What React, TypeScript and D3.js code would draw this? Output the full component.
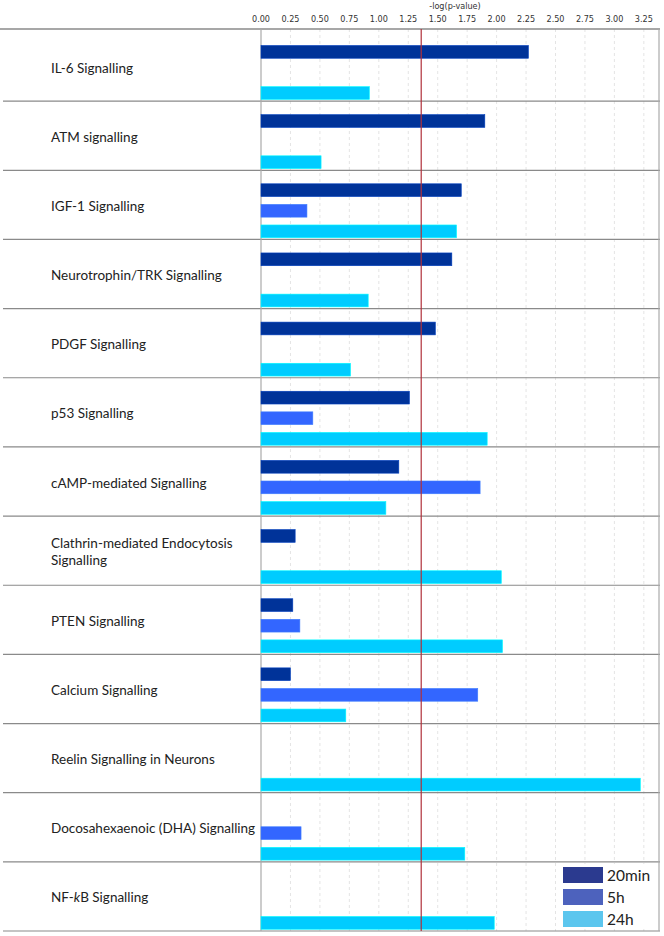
import * as d3 from 'd3';

const categories = [
  'IL-6 Signalling',
  'ATM signalling',
  'IGF-1 Signalling',
  'Neurotrophin/TRK Signalling',
  'PDGF Signalling',
  'p53 Signalling',
  'cAMP-mediated Signalling',
  'Clathrin-mediated Endocytosis Signalling',
  'PTEN Signalling',
  'Calcium Signalling',
  'Reelin Signalling in Neurons',
  'Docosahexaenoic (DHA) Signalling',
  'NF-kB Signalling',
];

const seriesNames = ['20min', '5h', '24h'];

// -log(p-value) per pathway, null = no bar
const values20min = [2.27, 1.9, 1.7, 1.62, 1.48, 1.26, 1.17, 0.29, 0.27, 0.25, null, null, null];
const values5h = [null, null, 0.39, null, null, 0.44, 1.86, null, 0.33, 1.84, null, 0.34, null];
const values24h = [0.92, 0.51, 1.66, 0.91, 0.76, 1.92, 1.06, 2.04, 2.05, 0.72, 3.22, 1.73, 1.98];

const xTicks = [0, 0.25, 0.5, 0.75, 1, 1.25, 1.5, 1.75, 2, 2.25, 2.5, 2.75, 3, 3.25];
const threshold = 1.36;

const barColors = ['#003399', '#3366ff', '#00ccff'];
const legendColors = ['#2b3a8f', '#4d62bd', '#5cc6ee'];

const W = 664;
const H = 936;
const plotLeft = 261;
const plotRight = 659;
const plotTop = 29;
const plotBottom = 931;

export default function App() {
  const x = d3.scaleLinear().domain([0, 3.25]).range([plotLeft, plotLeft + 13 * 29.45]);
  const y = d3.scaleBand<string>().domain(categories).range([plotTop + 3, plotBottom]);
  const rowH = y.bandwidth();
  const inner = d3
    .scaleBand<string>()
    .domain(seriesNames)
    .range([rowH * 0.195, rowH * 0.975])
    .paddingInner(0.38)
    .paddingOuter(0);

  const allSeries = [values20min, values5h, values24h];
  const font = 'Lato, "Open Sans", sans-serif';
  const tickFont = '"DejaVu Sans Condensed", "DejaVu Sans", sans-serif';

  const renderLabel = (name: string, cy: number) => {
    if (name.startsWith('Clathrin')) {
      return (
        <text x={51} y={cy - 3} fontSize={13.5} fontFamily={font} fill="#222">
          <tspan x={51}>Clathrin-mediated Endocytosis</tspan>
          <tspan x={51} dy={17}>Signalling</tspan>
        </text>
      );
    }
    if (name.startsWith('NF-k')) {
      return (
        <text x={51} y={cy + 6} fontSize={13.5} fontFamily={font} fill="#222">
          NF-<tspan fontStyle="italic">k</tspan>B Signalling
        </text>
      );
    }
    return (
      <text x={51} y={cy + 6} fontSize={13.5} fontFamily={font} fill="#222">
        {name}
      </text>
    );
  };

  return (
    <svg
      width={W}
      height={H}
      style={{ position: 'absolute', left: 0, top: 0, background: '#fff' }}
    >
      {/* axis title */}
      <text x={455} y={9} textAnchor="middle" fontSize={9} fontFamily={tickFont} fill="#333">
        -log(p-value)
      </text>

      {/* tick labels */}
      {xTicks.map((t) => (
        <text
          key={t}
          x={x(t)}
          y={22}
          textAnchor="middle"
          fontSize={9}
          fontFamily={tickFont}
          fill="#333"
        >
          {t.toFixed(2)}
        </text>
      ))}

      {/* grid lines */}
      {xTicks.slice(1).map((t) => (
        <line
          key={t}
          x1={x(t)}
          x2={x(t)}
          y1={plotTop}
          y2={plotBottom}
          stroke="#ddd"
          strokeWidth={0.8}
          strokeDasharray="3,3"
        />
      ))}

      {/* row separators */}
      {categories.map((c, i) =>
        i === 0 ? null : (
          <line
            key={c}
            x1={3}
            x2={plotRight + 1}
            y1={y(c)!}
            y2={y(c)!}
            stroke="#8a8a8a"
            strokeWidth={1.2}
          />
        )
      )}
      <line x1={0} x2={plotRight + 1} y1={plotTop} y2={plotTop} stroke="#8a8a8a" strokeWidth={1.4} />
      <line x1={3} x2={plotRight + 1} y1={plotBottom} y2={plotBottom} stroke="#8a8a8a" strokeWidth={1.2} />
      <line x1={plotLeft} x2={plotLeft} y1={plotTop} y2={plotBottom} stroke="#aaa" strokeWidth={1.2} />
      <line x1={plotRight} x2={plotRight} y1={plotTop} y2={plotBottom} stroke="#aaa" strokeWidth={1.2} />

      {/* labels */}
      {categories.map((c) => (
        <g key={c}>{renderLabel(c, y(c)! + rowH / 2)}</g>
      ))}

      {/* bars */}
      {categories.map((c, i) => (
        <g key={c} transform={`translate(0,${y(c)})`}>
          {allSeries.map((vals, s) => {
            const v = vals[i];
            if (v == null) return null;
            return (
              <rect
                key={s}
                x={x(0)}
                y={inner(seriesNames[s])!}
                width={x(v) - x(0)}
                height={inner.bandwidth()}
                fill={barColors[s]}
                stroke={d3.color(barColors[s])!.brighter(0.6).formatHex()}
                strokeWidth={0.6}
              />
            );
          })}
        </g>
      ))}

      {/* threshold line */}
      <line
        x1={x(threshold)}
        x2={x(threshold)}
        y1={plotTop}
        y2={plotBottom}
        stroke="#b0303a"
        strokeWidth={1.2}
      />

      {/* legend */}
      <rect x={556} y={864} width={101} height={65} fill="#fff" />
      {seriesNames.map((s, i) => (
        <g key={s} transform={`translate(563,${867 + i * 22})`}>
          <rect width={40} height={16} fill={legendColors[i]} />
          <text x={44} y={14} fontSize={15.5} fontFamily={font} fill="#222">
            {s}
          </text>
        </g>
      ))}
    </svg>
  );
}
